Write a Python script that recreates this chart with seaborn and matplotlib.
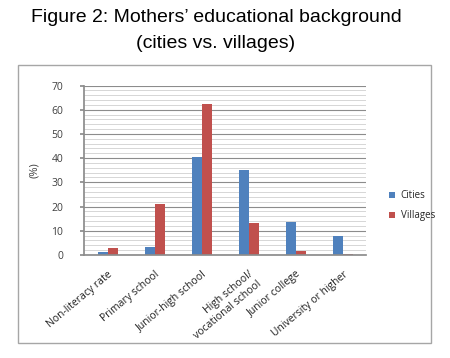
import matplotlib
matplotlib.use("Agg")
import matplotlib.pyplot as plt
import seaborn as sns
import pandas as pd
from matplotlib.patches import Rectangle

categories = ["Non-literacy rate", "Primary school", "Junior-high school",
              "High school/\nvocational school", "Junior college", "University or higher"]
cities = [1.2, 3.3, 40.5, 35.0, 13.5, 8.0]
villages = [2.7, 21.0, 62.5, 13.0, 1.5, 0.3]
series_names = ["Cities", "Villages"]
yticks = [0, 10, 20, 30, 40, 50, 60, 70]

df = pd.DataFrame({
    "category": categories * 2,
    "value": cities + villages,
    "series": [series_names[0]] * len(categories) + [series_names[1]] * len(categories),
})

sns.set_theme(style="white")
plt.rcParams["font.family"] = ["Open Sans", "DejaVu Sans"]

fig = plt.figure(figsize=(4.5, 3.58), dpi=100)
ax = fig.add_axes([0.187, 0.288, 0.627, 0.473])

sns.barplot(data=df, x="category", y="value", hue="series", order=categories,
            hue_order=series_names, palette=["#4F81BD", "#C0504D"], saturation=1,
            width=0.42, ax=ax, edgecolor="none", legend=True)

ax.set_ylim(0, 70)
ax.set_xlim(-0.5, 5.5)
ax.set_yticks(yticks)
ax.set_yticklabels([str(t) for t in yticks], fontsize=7.5, color="#404040")
ax.set_yticks(range(0, 71, 2), minor=True)
ax.grid(axis="y", which="major", color="#8c8c8c", linewidth=0.8)
ax.grid(axis="y", which="minor", color="#d0d0d0", linewidth=0.6)
ax.set_axisbelow(True)
ax.tick_params(axis="y", which="major", length=3, color="#8c8c8c", left=True, pad=12)
ax.tick_params(axis="y", which="minor", length=0)
ax.set_xticks(range(len(categories)))
ax.set_xticklabels(categories, rotation=40, ha="right", rotation_mode="anchor",
                   fontsize=7.5, color="#202020")
ax.tick_params(axis="x", length=0, pad=10)
ax.set_xlabel("")
ax.set_ylabel("(%)", fontsize=8, color="#404040", labelpad=8)
for s in ["top", "right"]:
    ax.spines[s].set_visible(False)
ax.spines["left"].set_color("#8c8c8c")
ax.spines["bottom"].set_color("#8c8c8c")

leg = ax.legend(loc="center left", bbox_to_anchor=(1.05, 0.29), frameon=False,
                fontsize=7, handlelength=0.6, handleheight=0.6, handletextpad=0.6,
                labelspacing=0.9)

fig.patches.append(Rectangle((18 / 450, 1 - 343 / 358), (431 - 18) / 450, (343 - 65) / 358,
                             transform=fig.transFigure, fill=False,
                             edgecolor="#a6a6a6", linewidth=1.0, zorder=-1))

fig.text(0.48, 1 - 18 / 358, "Figure 2: Mothers\u2019 educational background",
         ha="center", va="center", fontsize=14, family="Liberation Sans", color="black")
fig.text(0.478, 1 - 44 / 358, "(cities vs. villages)",
         ha="center", va="center", fontsize=14, family="Liberation Sans", color="black")

fig.savefig("out.png", dpi=100, facecolor="white")
